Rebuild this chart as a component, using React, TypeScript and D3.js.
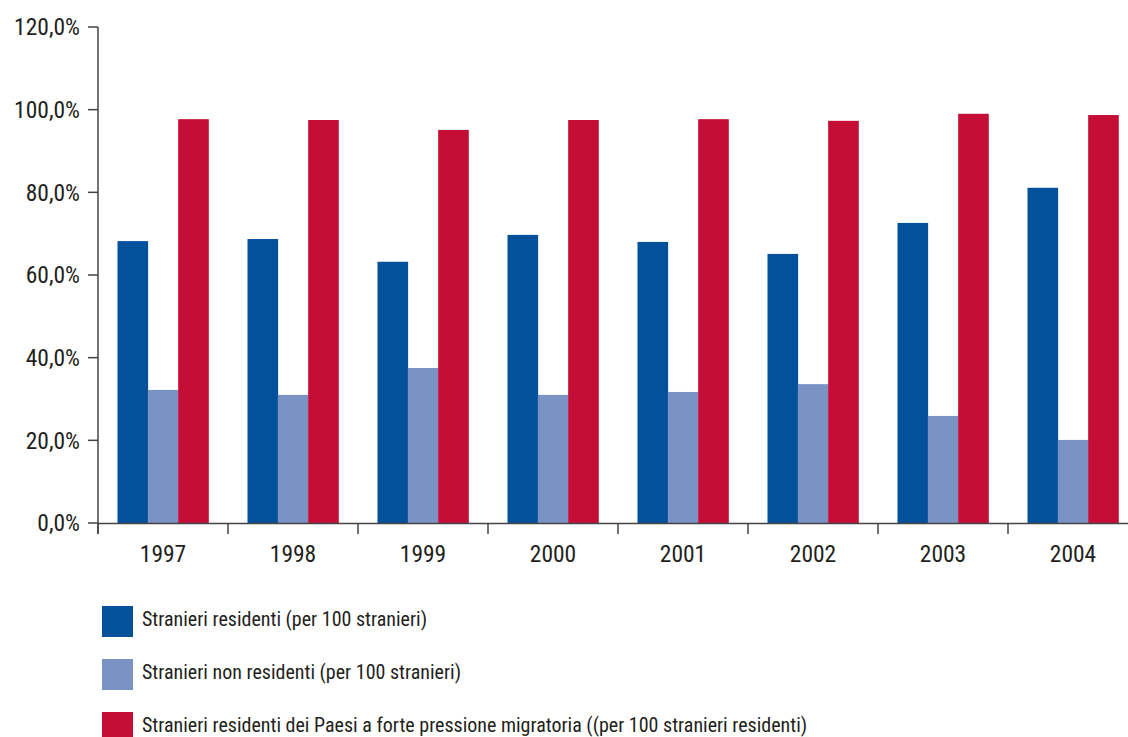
import React from "react";
import * as d3 from "d3";

const years = ["1997", "1998", "1999", "2000", "2001", "2002", "2003", "2004"];
const residenti = [68.2, 68.7, 63.2, 69.7, 68.0, 65.1, 72.6, 81.1];
const nonResidenti = [32.2, 31.0, 37.5, 31.0, 31.7, 33.6, 25.9, 20.1];
const fortePressione = [97.7, 97.5, 95.1, 97.5, 97.7, 97.3, 99.0, 98.7];
const seriesNames = [
  "Stranieri residenti (per 100 stranieri)",
  "Stranieri non residenti (per 100 stranieri)",
  "Stranieri residenti dei Paesi a forte pressione migratoria ((per 100 stranieri residenti)",
];
const seriesColors = ["#03519b", "#7b93c4", "#c40e36"];
const yTicks = [0, 20, 40, 60, 80, 100, 120];

const FONT = "'Liberation Sans Narrow', 'Arial Narrow', 'Roboto Condensed', 'Liberation Sans', sans-serif";
const TEXT = "#231f20";
const AXIS = "#444";

export default function App() {
  const W = 1128;
  const H = 737;
  const left = 98;
  const top = 27;
  const bottom = 523;
  const y = d3.scaleLinear().domain([0, 120]).range([bottom, top]);
  const x = d3.scaleBand().domain(years).range([left, left + 130 * years.length]).padding(0);
  const bw = x.bandwidth();
  const series = [residenti, nonResidenti, fortePressione];
  const xs = d3.scaleBand().domain(["0", "1", "2"]).range([bw * 0.15, bw * 0.85]).padding(0);
  const fmt = (v: number) => d3.format(".1f")(v).replace(".", ",") + "%";

  return (
    <svg width={W} height={H} style={{ position: "absolute", left: 0, top: 0, background: "#fff" }} fontFamily={FONT}>
      {series.map((vals, si) =>
        vals.map((v, i) => (
          <rect
            key={`${si}-${i}`}
            x={(x(years[i]) as number) + (xs(String(si)) as number)}
            y={y(v)}
            width={xs.bandwidth() + 0.3}
            height={y(0) - y(v)}
            fill={seriesColors[si]}
          />
        ))
      )}
      {/* Y axis */}
      <line x1={left} x2={left} y1={top} y2={bottom + 11} stroke={AXIS} strokeWidth={1.5} />
      {yTicks.map((t) => (
        <g key={t}>
          <line x1={left - 10} x2={left} y1={y(t)} y2={y(t)} stroke={AXIS} strokeWidth={1.5} />
          <text x={80} y={y(t)} dy="0.36em" textAnchor="end" fontSize={23.5} fill={TEXT}>
            {fmt(t)}
          </text>
        </g>
      ))}
      {/* X axis */}
      <line x1={left} x2={W} y1={bottom + 0.5} y2={bottom + 0.5} stroke={AXIS} strokeWidth={1.5} />
      {years.map((yr) => (
        <g key={yr}>
          <line x1={x(yr) as number} x2={x(yr) as number} y1={bottom} y2={bottom + 11} stroke={AXIS} strokeWidth={1.5} />
          <text x={(x(yr) as number) + bw / 2} y={562} textAnchor="middle" fontSize={23.5} fill={TEXT}>
            {yr}
          </text>
        </g>
      ))}
      {/* Legend */}
      {seriesNames.map((name, i) => (
        <g key={name} transform={`translate(102, ${606 + i * 53})`}>
          <rect x={0} y={0} width={31} height={31} fill={seriesColors[i]} />
          <text x={40} y={20} fontSize={20} fill={TEXT}>
            {name}
          </text>
        </g>
      ))}
    </svg>
  );
}
